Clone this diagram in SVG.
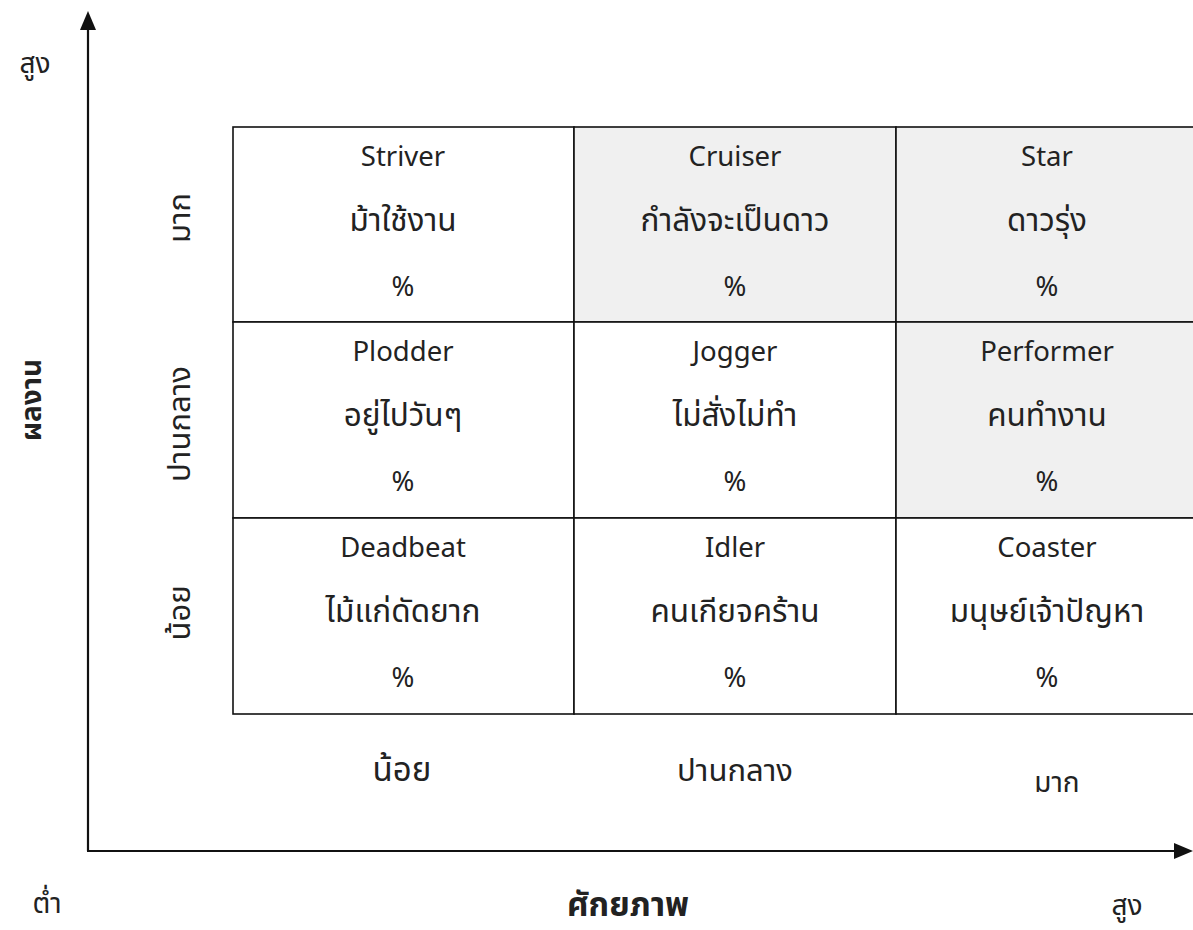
<svg xmlns="http://www.w3.org/2000/svg" width="1193" height="930" viewBox="0 0 1193 930">
<style>
text{font-family:"Noto Sans Thai","Leelawadee UI","Tahoma","DejaVu Sans","Noto Sans",sans-serif;fill:#222;text-anchor:middle;dominant-baseline:central}
.c{font-size:27.5px}
.t{font-size:31.5px}
.l{font-size:31px}
.b{font-size:28px;font-weight:bold}
.cell{stroke:#111;stroke-width:1.6}
.ax{stroke:#111;stroke-width:2.2;fill:none}
</style>
<rect width="1193" height="930" fill="#fff"/>
<g id="connectors">
<line class="ax" x1="88" y1="851" x2="88" y2="26"/>
<polygon points="88,11 80,30 96,30" fill="#111"/>
<line class="ax" x1="87" y1="851" x2="1178" y2="851"/>
<polygon points="1193,851 1174,843 1174,859" fill="#111"/>
</g>
<g id="grid">
<rect class="cell" x="233" y="127" width="341" height="195" fill="#fff"/>
<rect class="cell" x="574" y="127" width="322" height="195" fill="#f0f0f0"/>
<rect class="cell" x="896" y="127" width="300" height="195" fill="#f0f0f0"/>
<rect class="cell" x="233" y="322" width="341" height="196" fill="#fff"/>
<rect class="cell" x="574" y="322" width="322" height="196" fill="#fff"/>
<rect class="cell" x="896" y="322" width="300" height="196" fill="#f0f0f0"/>
<rect class="cell" x="233" y="518" width="341" height="196" fill="#fff"/>
<rect class="cell" x="574" y="518" width="322" height="196" fill="#fff"/>
<rect class="cell" x="896" y="518" width="300" height="196" fill="#fff"/>
</g>
<g id="striver"><text class="c" x="403" y="157">Striver</text><text class="t" x="403" y="221">ม้าใช้งาน</text><text class="c" x="403" y="287">%</text></g>
<g id="cruiser"><text class="c" x="735" y="157">Cruiser</text><text class="t" x="735" y="221">กำลังจะเป็นดาว</text><text class="c" x="735" y="287">%</text></g>
<g id="star"><text class="c" x="1047" y="157">Star</text><text class="t" x="1047" y="221">ดาวรุ่ง</text><text class="c" x="1047" y="287">%</text></g>
<g id="plodder"><text class="c" x="403" y="352">Plodder</text><text class="t" x="403" y="416">อยู่ไปวันๆ</text><text class="c" x="403" y="482">%</text></g>
<g id="jogger"><text class="c" x="735" y="352">Jogger</text><text class="t" x="735" y="416">ไม่สั่งไม่ทำ</text><text class="c" x="735" y="482">%</text></g>
<g id="performer"><text class="c" x="1047" y="352">Performer</text><text class="t" x="1047" y="416">คนทำงาน</text><text class="c" x="1047" y="482">%</text></g>
<g id="deadbeat"><text class="c" x="403" y="548">Deadbeat</text><text class="t" x="403" y="612">ไม้แก่ดัดยาก</text><text class="c" x="403" y="678">%</text></g>
<g id="idler"><text class="c" x="735" y="548">Idler</text><text class="t" x="735" y="612">คนเกียจคร้าน</text><text class="c" x="735" y="678">%</text></g>
<g id="coaster"><text class="c" x="1047" y="548">Coaster</text><text class="t" x="1047" y="612">มนุษย์เจ้าปัญหา</text><text class="c" x="1047" y="678">%</text></g>
<g id="row-labels">
<text class="l" transform="translate(180,218) rotate(-90)">มาก</text>
<text class="l" transform="translate(180,424) rotate(-90)">ปานกลาง</text>
<text class="l" transform="translate(180,613) rotate(-90)">น้อย</text>
</g>
<g id="col-labels">
<text class="l" x="402" y="771" style="font-size:33px">น้อย</text>
<text class="l" x="735" y="771">ปานกลาง</text>
<text class="l" x="1057" y="783" style="font-size:28px">มาก</text>
</g>
<g id="axis-labels">
<text class="l" x="35" y="64" style="font-size:28px">สูง</text>
<text class="b" transform="translate(32,400) rotate(-90)">ผลงาน</text>
<text class="l" x="47" y="904" style="font-size:28px">ต่ำ</text>
<text class="b" x="628" y="906" style="font-size:33px">ศักยภาพ</text>
<text class="l" x="1127" y="906" style="font-size:28px">สูง</text>
</g>
</svg>
